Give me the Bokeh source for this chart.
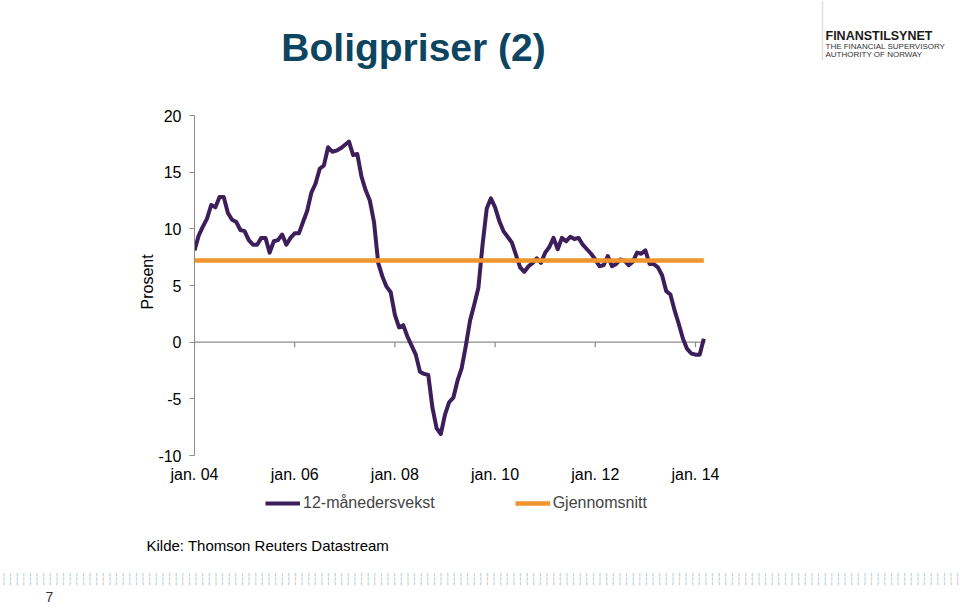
from bokeh.plotting import figure
from bokeh.layouts import column
from bokeh.models import (Range1d, Label, Legend, LegendItem, FixedTicker, PolyAnnotation,
                          Title)
from bokeh.embed import file_html
from bokeh.resources import INLINE

# 12-month house price growth, monthly Jan 2004 - Mar 2014 (percent)
growth = [
    8.1, 9.4, 10.2, 10.9, 12.1, 11.9, 12.8, 12.8, 11.4, 10.8,
    10.6, 9.9, 9.8, 9.0, 8.6, 8.6, 9.2, 9.2, 7.9, 8.9,
    9.0, 9.5, 8.6, 9.2, 9.6, 9.6, 10.6, 11.6, 13.2, 14.0,
    15.3, 15.6, 17.2, 16.8, 16.9, 17.1, 17.4, 17.7, 16.5, 16.6,
    14.6, 13.4, 12.5, 10.6, 7.0, 5.8, 4.9, 4.4, 2.4, 1.3,
    1.5, 0.5, -0.3, -1.1, -2.6, -2.8, -2.9, -5.8, -7.6, -8.1,
    -6.4, -5.3, -4.9, -3.4, -2.3, -0.3, 1.9, 3.3, 4.8, 8.6,
    11.8, 12.7, 11.9, 10.7, 9.8, 9.3, 8.8, 7.7, 6.6, 6.2,
    6.7, 7.0, 7.4, 7.0, 7.9, 8.4, 9.2, 8.2, 9.2, 8.9,
    9.3, 9.1, 9.2, 8.6, 8.2, 7.8, 7.3, 6.7, 6.8, 7.6,
    6.7, 6.9, 7.3, 7.2, 6.8, 7.1, 7.9, 7.8, 8.1, 6.9,
    6.9, 6.6, 5.9, 4.5, 4.2, 2.8, 1.6, 0.3, -0.6, -1.0,
    -1.1, -1.1, 0.3,
]
average_value = 7.2
month_index = list(range(len(growth)))
average_series = [average_value] * len(growth)

tick_months = [0, 24, 48, 72, 96, 120]
tick_labels = ["jan. 04", "jan. 06", "jan. 08", "jan. 10", "jan. 12", "jan. 14"]
y_ticks = [-10, -5, 0, 5, 10, 15, 20]
y_tick_labels = ["-10", "-5", "0", "5", "10", "15", "20"]
series_names = ["12-månedersvekst", "Gjennomsnitt"]

# layout constants (pixels)
W = 960
MAIN_H, FOOT_H = 485, 124
FRAME_LEFT, FRAME_BOTTOM = 194, 455
PX_PER_MONTH = 511 / 122.4
PX_PER_UNIT = 340 / 30.0
X_AXIS_END = 122.4
X_END = (W - FRAME_LEFT) / PX_PER_MONTH
Y_TOP = 20 + (FRAME_BOTTOM - 340) / PX_PER_UNIT

PURPLE = "#3b1e5a"
ORANGE = "#f0952e"
GREY = "#8c8c8c"
DOTS = "#b3c5cf"
FONT = "Liberation Sans"

# ================= main chart =================
p = figure(width=W, height=MAIN_H, output_backend="svg", toolbar_location=None,
           x_range=Range1d(0, X_END), y_range=Range1d(-10, Y_TOP),
           min_border_left=FRAME_LEFT, min_border_right=0,
           min_border_top=0, min_border_bottom=MAIN_H - FRAME_BOTTOM)
p.outline_line_color = None
p.grid.visible = False
p.background_fill_color = "white"
p.border_fill_color = "white"

p.xaxis.ticker = FixedTicker(ticks=tick_months)
p.xaxis.major_label_overrides = {m: l for m, l in zip(tick_months, tick_labels)}
p.xaxis.axis_line_color = None
p.xaxis.major_tick_line_color = None
p.xaxis.major_tick_out = 0
p.xaxis.major_tick_in = 0
p.xaxis.minor_tick_line_color = None
p.xaxis.minor_tick_out = 0
p.xaxis.major_label_standoff = 10
p.xaxis.major_label_text_font = FONT
p.xaxis.major_label_text_font_size = "16px"
p.xaxis.major_label_text_color = "black"

p.yaxis.ticker = FixedTicker(ticks=y_ticks)
p.yaxis.bounds = (-10, 20)
p.yaxis.major_label_overrides = {t: l for t, l in zip(y_ticks, y_tick_labels)}
p.yaxis.axis_line_color = GREY
p.yaxis.major_tick_line_color = GREY
p.yaxis.major_tick_out = 5
p.yaxis.major_tick_in = 0
p.yaxis.minor_tick_line_color = None
p.yaxis.major_label_standoff = 8
p.yaxis.major_label_text_font = FONT
p.yaxis.major_label_text_font_size = "16px"
p.yaxis.major_label_text_color = "black"

# y-axis title, centred on the -10..20 span of the axis
p.add_layout(Title(text="Prosent", align="left", offset=146, vertical_align="bottom",
                   standoff=0, text_font=FONT, text_font_size="16px",
                   text_font_style="normal", text_color="black"), "left")

# zero line with tick marks
p.segment(x0=[0], y0=[0], x1=[X_AXIS_END], y1=[0], line_color=GREY, line_width=1.2)
p.segment(x0=tick_months, y0=[0] * len(tick_months), x1=tick_months,
          y1=[-0.45] * len(tick_months), line_color=GREY, line_width=1.2)

p.line(month_index, growth, line_color=PURPLE, line_width=4, line_join="round")
p.line(month_index, average_series, line_color=ORANGE, line_width=4.5)


def page_label(text, X, Y, size, **kw):
    lab = Label(x=X - FRAME_LEFT, y=FRAME_BOTTOM - Y, x_units="screen", y_units="screen",
                text=text, text_font=FONT, text_font_size=size, **kw)
    p.add_layout(lab)
    return lab


page_label("Boligpriser (2)", 413, 47, "39px", text_align="center", text_baseline="middle",
           text_font_style="bold", text_color="#0d4560")
page_label("FINANSTILSYNET", 825, 35, "12.5px", text_align="left", text_baseline="middle",
           text_font_style="bold", text_color="#1a1a1a")
page_label("THE FINANCIAL SUPERVISORY", 825, 46, "8px", text_align="left",
           text_baseline="middle", text_color="#333333")
page_label("AUTHORITY OF NORWAY", 825, 54, "8px", text_align="left", text_baseline="middle",
           text_color="#333333")
p.add_layout(PolyAnnotation(xs=[822 - FRAME_LEFT, 822 - FRAME_LEFT],
                            ys=[FRAME_BOTTOM - 0, FRAME_BOTTOM - 60],
                            xs_units="screen", ys_units="screen",
                            line_color="#9a9a9a", line_width=1.5, fill_alpha=0))

# ================= footer: legend, source, dots, page number =================
FOOT_FRAME_BOTTOM = 520  # page y
foot = figure(width=W, height=FOOT_H, output_backend="svg", toolbar_location=None,
              x_range=Range1d(0, 1), y_range=Range1d(0, 1),
              x_axis_location=None, y_axis_location=None,
              min_border_left=FRAME_LEFT, min_border_right=0,
              min_border_top=0, min_border_bottom=609 - FOOT_FRAME_BOTTOM)
foot.outline_line_color = None
foot.grid.visible = False
foot.background_fill_color = "white"
foot.border_fill_color = "white"

# legend keys share the series styling (a single point each, so nothing is drawn)
key_growth = foot.line(x=month_index[:1], y=[-1], line_color=PURPLE, line_width=4)
key_avg = foot.line(x=month_index[:1], y=[-1], line_color=ORANGE, line_width=4.5)
legend = Legend(items=[LegendItem(label=series_names[0], renderers=[key_growth]),
                       LegendItem(label=series_names[1], renderers=[key_avg])],
                orientation="horizontal", location=(265 - FRAME_LEFT, FOOT_FRAME_BOTTOM - 513),
                glyph_width=35, glyph_height=20, label_height=20, label_standoff=3,
                spacing=80, padding=0, margin=0, border_line_color=None,
                background_fill_alpha=0, label_text_font=FONT,
                label_text_font_size="16px")
foot.add_layout(legend, "center")

foot.add_layout(Title(text="Kilde: Thomson Reuters Datastream", align="left",
                      offset=146 - FRAME_LEFT, vertical_align="middle", standoff=30,
                      text_font=FONT, text_font_size="15px", text_font_style="normal",
                      text_color="black"), "below")
foot.add_layout(Title(text="\u2506" * 145, align="left", offset=-FRAME_LEFT,
                      vertical_align="middle", standoff=5,
                      text_font="DejaVu Sans Mono", text_font_size="11px",
                      text_font_style="normal", text_color=DOTS), "below")
foot.add_layout(Title(text="7", align="left", offset=45 - FRAME_LEFT, vertical_align="bottom",
                      standoff=0, text_font=FONT, text_font_size="14px",
                      text_font_style="normal", text_color="#333333"), "below")

layout = column(p, foot, spacing=0)
open("out.html", "w").write(file_html(layout, INLINE))
